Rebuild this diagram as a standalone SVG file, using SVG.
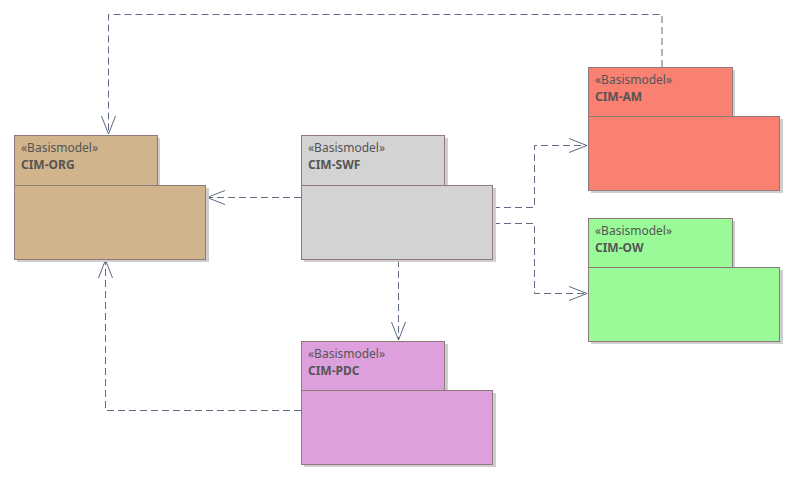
<svg xmlns="http://www.w3.org/2000/svg" width="795" height="478" viewBox="0 0 795 478">
  <style>
    .shadow { fill: #cfcfcf; }
    .pkg { stroke: #8f7a7a; stroke-width: 1; }
    .stereo { font-family: "Noto Sans", "Open Sans", sans-serif; font-size: 12px; fill: #555555; }
    .name { font-family: "Noto Sans", "Open Sans", sans-serif; font-size: 12px; font-weight: bold; fill: #555555; }
    .dep { fill: none; stroke: #5f6b85; stroke-width: 1; stroke-dasharray: 7 4; }
    .head { fill: none; stroke: #5f6b85; stroke-width: 1; }
  </style>
  <rect width="795" height="478" fill="#ffffff"/>

  <!-- dependency connectors -->
  <g id="connectors">
    <!-- CIM-AM to CIM-ORG over the top -->
    <polyline class="dep" points="662,67 662,14.5 108.5,14.5 108.5,134"/>
    <polyline class="head" points="101.5,116 108.5,134 115.5,116"/>
    <!-- CIM-SWF to CIM-ORG -->
    <polyline class="dep" points="301,197.5 207,197.5"/>
    <polyline class="head" points="225,190.5 207,197.5 225,204.5"/>
    <!-- CIM-SWF to CIM-AM -->
    <polyline class="dep" points="493,207.5 534.5,207.5 534.5,145.5 587,145.5"/>
    <polyline class="head" points="569,138.5 587,145.5 569,152.5"/>
    <!-- CIM-SWF to CIM-OW -->
    <polyline class="dep" points="493,223.5 534.5,223.5 534.5,293.5 587,293.5"/>
    <polyline class="head" points="569,286.5 587,293.5 569,300.5"/>
    <!-- CIM-SWF to CIM-PDC -->
    <polyline class="dep" points="398.5,260 398.5,340"/>
    <polyline class="head" points="391.5,322 398.5,340 405.5,322"/>
    <!-- CIM-PDC to CIM-ORG -->
    <polyline class="dep" points="301,410.5 105.5,410.5 105.5,260"/>
    <polyline class="head" points="98.5,278 105.5,260 112.5,278"/>
  </g>

  <g id="cim-org">
    <rect class="shadow" x="17" y="138" width="143" height="50"/>
    <rect class="shadow" x="17" y="188" width="192" height="74"/>
    <rect class="pkg" x="14.5" y="135.5" width="143" height="50" fill="#d2b48c"/>
    <rect class="pkg" x="14.5" y="185.5" width="191" height="74" fill="#d2b48c"/>
    <text class="stereo" x="21" y="152">«Basismodel»</text>
    <text class="name" x="21" y="169">CIM-ORG</text>
  </g>

  <g id="cim-swf">
    <rect class="shadow" x="304" y="138" width="144" height="50"/>
    <rect class="shadow" x="304" y="188" width="192" height="74"/>
    <rect class="pkg" x="301.5" y="135.5" width="143" height="50" fill="#d3d3d3"/>
    <rect class="pkg" x="301.5" y="185.5" width="191" height="74" fill="#d3d3d3"/>
    <text class="stereo" x="308" y="152">«Basismodel»</text>
    <text class="name" x="308" y="169">CIM-SWF</text>
  </g>

  <g id="cim-am">
    <rect class="shadow" x="591" y="70" width="144" height="50"/>
    <rect class="shadow" x="591" y="119" width="192" height="74"/>
    <rect class="pkg" x="588.5" y="67.5" width="144" height="49" fill="#fa8072"/>
    <rect class="pkg" x="588.5" y="116.5" width="191" height="74" fill="#fa8072"/>
    <text class="stereo" x="595" y="84">«Basismodel»</text>
    <text class="name" x="595" y="101">CIM-AM</text>
  </g>

  <g id="cim-ow">
    <rect class="shadow" x="591" y="221" width="144" height="50"/>
    <rect class="shadow" x="591" y="270" width="192" height="74"/>
    <rect class="pkg" x="588.5" y="218.5" width="144" height="49" fill="#98fb98"/>
    <rect class="pkg" x="588.5" y="267.5" width="191" height="74" fill="#98fb98"/>
    <text class="stereo" x="595" y="235">«Basismodel»</text>
    <text class="name" x="595" y="252">CIM-OW</text>
  </g>

  <g id="cim-pdc">
    <rect class="shadow" x="304" y="344" width="144" height="50"/>
    <rect class="shadow" x="304" y="393" width="192" height="74"/>
    <rect class="pkg" x="301.5" y="341.5" width="143" height="49" fill="#dda0dd"/>
    <rect class="pkg" x="301.5" y="390.5" width="191" height="74" fill="#dda0dd"/>
    <text class="stereo" x="308" y="358">«Basismodel»</text>
    <text class="name" x="308" y="375">CIM-PDC</text>
  </g>
</svg>
